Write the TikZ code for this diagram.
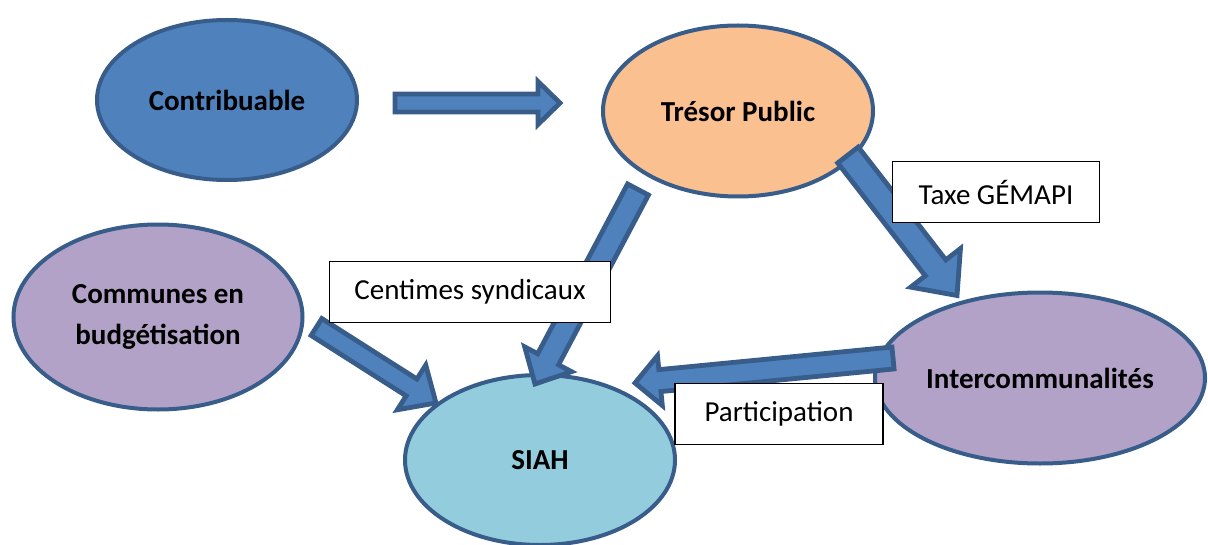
\documentclass[tikz,border=0pt]{standalone}
\usepackage{fontspec}
\setmainfont{Carlito}
\usetikzlibrary{shapes.geometric, calc}
\definecolor{officeblue}{HTML}{4F81BD}
\definecolor{officeline}{HTML}{385D8A}
\definecolor{tresorfill}{HTML}{FAC090}
\definecolor{lilac}{HTML}{B3A2C7}
\definecolor{skyfill}{HTML}{93CDDD}
\tikzset{
    entity/.style = {ellipse, draw=officeline, line width=2pt, inner sep=0pt, align=center, font=\fontsize{14.5}{20.5}\selectfont\bfseries},
    tag/.style = {rectangle, draw=black, line width=0.6pt, fill=white, minimum height=30.5pt, inner sep=0pt, font=\fontsize{14.5}{17}\selectfont},
    flowarrow/.style = {draw=officeline, fill=officeblue, line width=2.4pt}
}
% #1 tail, #2 tip, #3 half shaft, #4 half head, #5 head length
\newcommand{\bigarrow}[5]{%
  \coordinate (bh) at ($(#2)!#5!(#1)$);
  \draw[flowarrow] ($(#1)!#3!90:(#2)$) -- ($(bh)!#3!90:(#2)$) -- ($(bh)!#4!90:(#2)$) -- (#2)
    -- ($(bh)!#4!-90:(#2)$) -- ($(bh)!#3!-90:(#2)$) -- ($(#1)!#3!-90:(#2)$) -- cycle;}

\begin{document}
\begin{tikzpicture}[x=0.5pt, y=-0.5pt]
\useasboundingbox (0,0) rectangle (1208,545);

\node[entity, fill=officeblue, minimum width=130pt, minimum height=80pt] (contrib) at (227,100) {Contribuable};
\node[entity, fill=tresorfill, minimum width=135pt, minimum height=85.5pt] (tresor) at (738,111) {Trésor Public};
\node[entity, fill=lilac, minimum width=144.5pt, minimum height=92.5pt] (communes) at (158,317) {Communes en\\budgétisation};
\node[entity, fill=skyfill, minimum width=135pt, minimum height=85pt] (siah) at (540,460) {SIAH};
\node[entity, fill=lilac, minimum width=165pt, minimum height=85.5pt] (interco) at (1040,378) {Intercommunalités};

\coordinate (contrib-out) at ([shift={(36,3)}]contrib.east);
\coordinate (tresor-in) at ([shift={(-41,-8)}]tresor.west);
\coordinate (centimes-out) at ([shift={(-100,-9)}]tresor.south);
\coordinate (centimes-in) at ([shift={(-5,11)}]siah.north);
\coordinate (communes-out) at ([shift={(12,10)}]communes.east);
\coordinate (communes-in) at ([shift={(33,-57)}]siah.west);
\coordinate (gemapi-out) at ([shift={(-27,44)}]tresor.east);
\coordinate (gemapi-in) at ([shift={(-83,5)}]interco.north);
\coordinate (particip-out) at ([shift={(20,-20)}]interco.west);
\coordinate (particip-in) at ([shift={(95,10)}]siah.north);

\bigarrow{contrib-out}{tresor-in}{4.5pt}{10.75pt}{11pt}
\bigarrow{centimes-out}{centimes-in}{5.9pt}{13.25pt}{14pt}
\bigarrow{communes-out}{communes-in}{5pt}{13.25pt}{14.5pt}
\bigarrow{gemapi-out}{gemapi-in}{6.5pt}{15.75pt}{17.5pt}
\bigarrow{particip-out}{particip-in}{5.5pt}{12.5pt}{12.5pt}

\node[tag, minimum width=103.5pt] (gemapi) at (996,192) {Taxe GÉMAPI};
\node[tag, minimum width=140.5pt] (centimes) at (470,292) {Centimes syndicaux};
\node[tag, minimum width=104pt] (particip) at (779,414) {Participation};
\end{tikzpicture}
\end{document}
